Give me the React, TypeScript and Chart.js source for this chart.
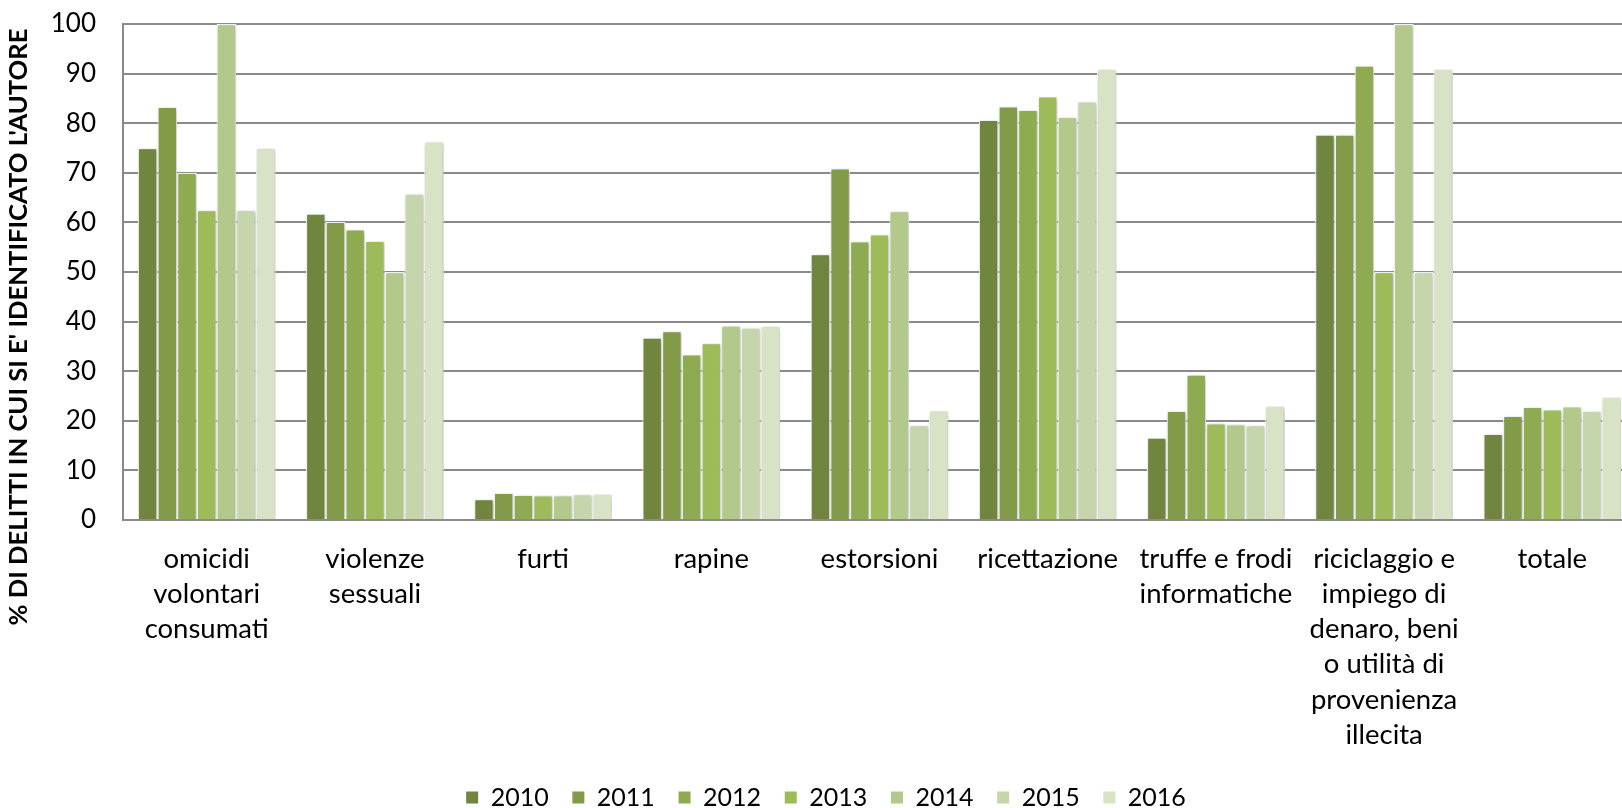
import React, { useEffect, useRef } from "react";
import { Chart, registerables } from "chart.js";

Chart.register(...registerables);

const categories: string[][] = [
  ["omicidi", "volontari", "consumati"],
  ["violenze", "sessuali"],
  ["furti"],
  ["rapine"],
  ["estorsioni"],
  ["ricettazione"],
  ["truffe e frodi", "informatiche"],
  ["riciclaggio e", "impiego di", "denaro, beni", "o utilità di", "provenienza", "illecita"],
  ["totale"],
];

const years = ["2010", "2011", "2012", "2013", "2014", "2015", "2016"];

const v2010 = [75, 61.8, 4.2, 36.8, 53.6, 80.7, 16.6, 77.7, 17.4];
const v2011 = [83.3, 60.1, 5.5, 38.1, 70.9, 83.4, 22.0, 77.7, 21.0];
const v2012 = [70, 58.6, 5.1, 33.4, 56.2, 82.7, 29.3, 91.6, 22.8];
const v2013 = [62.5, 56.3, 5.0, 35.7, 57.6, 85.4, 19.5, 50, 22.3];
const v2014 = [100, 50, 5.0, 39.2, 62.3, 81.3, 19.3, 100, 22.9];
const v2015 = [62.5, 65.8, 5.2, 38.8, 19.1, 84.4, 19.1, 50, 22.0];
const v2016 = [75, 76.3, 5.3, 39.1, 22.1, 90.9, 23.0, 90.9, 24.8];

const seriesValues = [v2010, v2011, v2012, v2013, v2014, v2015, v2016];

const colors = ["#70863E", "#819B49", "#8FAB52", "#9DBB59", "#B3C98B", "#C6D6AC", "#D8E3C5"];

const yTitle = "% DI DELITTI IN CUI SI E' IDENTIFICATO L'AUTORE";

const FONT = "Lato";

export default function App() {
  const ref = useRef<HTMLCanvasElement | null>(null);

  useEffect(() => {
    if (!ref.current) return;

    const shadowPlugin = {
      id: "barShadow",
      beforeDatasetsDraw(chart: any) {
        const ctx = chart.ctx;
        ctx.save();
        ctx.shadowColor = "rgba(0,0,0,0.28)";
        ctx.shadowBlur = 4;
        ctx.shadowOffsetX = 1;
        ctx.shadowOffsetY = 1;
      },
      afterDatasetsDraw(chart: any) {
        chart.ctx.restore();
      },
    };

    const titlePlugin = {
      id: "yTitle",
      afterDraw(chart: any) {
        const ctx = chart.ctx;
        ctx.save();
        ctx.translate(19, 327);
        ctx.rotate(-Math.PI / 2);
        ctx.font = `bold 20px ${FONT}`;
        const w = ctx.measureText(yTitle).width;
        const size = (20 * 597) / w;
        ctx.font = `bold ${size.toFixed(2)}px ${FONT}`;
        ctx.fillStyle = "#000";
        ctx.textAlign = "center";
        ctx.textBaseline = "middle";
        ctx.fillText(yTitle, 0, 0);
        ctx.restore();
      },
    };

    const chart = new Chart(ref.current, {
      type: "bar",
      data: {
        labels: categories,
        datasets: years.map((y, i) => ({
          label: y,
          data: seriesValues[i],
          backgroundColor: colors[i],
          borderColor: "#ffffff",
          borderWidth: 1.2,
          categoryPercentage: 0.82,
          barPercentage: 1.0,
        })),
      },
      options: {
        responsive: false,
        animation: false,
        devicePixelRatio: 1,
        layout: { padding: { left: 15.6, right: 3.6, top: 24, bottom: 1 } },
        plugins: {
          tooltip: { enabled: false },
          legend: {
            position: "bottom",
            labels: {
              boxWidth: 12,
              boxHeight: 12,
              padding: 23.7,
              color: "#000",
              font: { family: FONT, size: 25 },
              generateLabels: (ch: any) =>
                ch.data.datasets.map((ds: any, i: number) => ({
                  text: ds.label,
                  fillStyle: ds.backgroundColor,
                  strokeStyle: ds.backgroundColor,
                  lineWidth: 0,
                  hidden: false,
                  datasetIndex: i,
                  fontColor: "#000",
                })),
            },
          },
        },
        scales: {
          x: {
            grid: { display: false, drawTicks: false },
            border: { display: true, color: "#8a8a8a", width: 2 },
            ticks: {
              autoSkip: false,
              maxRotation: 0,
              minRotation: 0,
              padding: 21,
              color: "#000",
              font: { family: FONT, size: 27.5, lineHeight: "35.3px" },
            },
            afterFit: (scale: any) => {
              scale.height = 241.3;
            },
          },
          y: {
            min: 0,
            max: 100,
            ticks: {
              stepSize: 10,
              padding: 26.6,
              color: "#000",
              font: { family: FONT, size: 26 },
            },
            grid: { color: "#8a8a8a", lineWidth: 2, drawTicks: false },
            border: { display: true, color: "#8a8a8a", width: 2 },
            afterFit: (scale: any) => {
              scale.width = 107;
              scale.paddingTop = 0;
              scale.paddingBottom = 0;
            },
          },
        },
      },
      plugins: [shadowPlugin, titlePlugin],
    });

    return () => chart.destroy();
  }, []);

  return (
    <div
      style={{
        position: "fixed",
        left: 0,
        top: 0,
        width: 1622,
        height: 808,
        overflow: "hidden",
        background: "#fff",
      }}
    >
      <canvas ref={ref} width={1640} height={821} style={{ width: 1640, height: 821, display: "block" }} />
    </div>
  );
}
